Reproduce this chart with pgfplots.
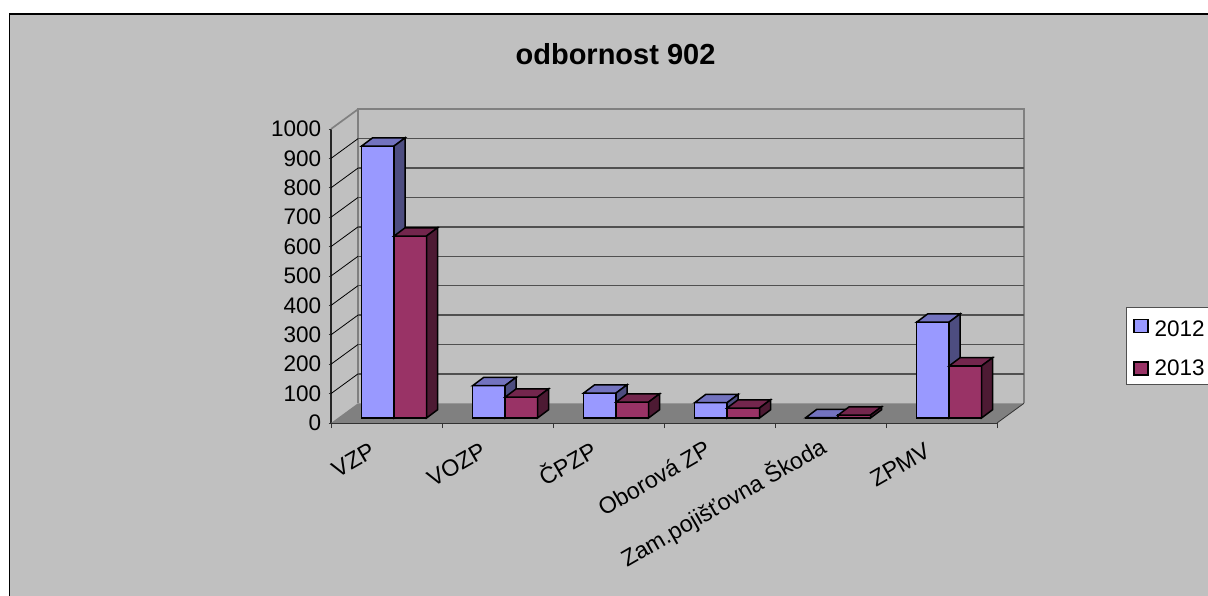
\documentclass[border=0pt]{standalone}
\usepackage{fontspec}
\setmainfont{Liberation Sans}
\usepackage{pgfplots}
\usepackage{pgfplotstable}
\pgfplotsset{compat=1.18}
\definecolor{chartbg}{HTML}{C0C0C0}
\definecolor{bluef}{HTML}{9999FF}
\definecolor{bluet}{HTML}{7373BF}
\definecolor{blues}{HTML}{4D4D80}
\definecolor{redf}{HTML}{993366}
\definecolor{redt}{HTML}{73264D}
\definecolor{reds}{HTML}{4D1A33}
\definecolor{wallc}{HTML}{808080}
\definecolor{gridc}{HTML}{505050}
\pgfplotstableread{
idx y2012 y2013
0 925 619
1 110 71
2 85 54
3 52 34
4 1 10
5 326 177
}\barsdata
\newcommand{\onebar}[6]{% left, value, front, top, side
  \pgfmathsetmacro{\xa}{#1}\pgfmathsetmacro{\xb}{#1+0.2923}
  \pgfmathsetmacro{\xc}{#1+0.099}\pgfmathsetmacro{\xd}{#1+0.2923+0.099}
  \pgfmathsetmacro{\yt}{#2+17}\pgfmathsetmacro{\ytt}{#2+17+28}
  \addplot[forget plot,fill=#3,draw=black,line width=1.5pt] coordinates {(\xa,17)(\xb,17)(\xb,\yt)(\xa,\yt)} --cycle;
  \addplot[forget plot,fill=#4,draw=black,line width=1.5pt] coordinates {(\xa,\yt)(\xb,\yt)(\xd,\ytt)(\xc,\ytt)} --cycle;
  \addplot[forget plot,fill=#5,draw=black,line width=1.5pt] coordinates {(\xb,17)(\xd,45)(\xd,\ytt)(\xb,\yt)} --cycle;
}
\begin{document}
\begin{tikzpicture}[x=1pt,y=1pt]
\useasboundingbox (0,0) rectangle (1208,595);
\clip (0,0) rectangle (1208,595);
\fill[white] (0,0) rectangle (1208,595);
\fill[chartbg] (9.5,-5) rectangle (1215,581);
\draw[black,line width=1.3pt] (9.5,-5) -- (9.5,581) -- (1215,581);
\node[font=\bfseries\fontsize{29}{34}\selectfont,text=black] at (615.5,541) {odbornost 902};
\begin{axis}[
  at={(331pt,172pt)},anchor=south west,scale only axis,
  width=666pt,height=294pt,
  xmin=-0.5,xmax=5.5,ymin=0,ymax=1000,
  clip=false,
  axis x line*=bottom,axis y line*=left,
  axis line style={-,black!85,line width=1.2pt},
  xtick={-0.5,0.5,1.5,2.5,3.5,4.5,5.5},
  xticklabels={VZP\hspace*{8pt},VOZP\hspace*{8pt},ČPZP\hspace*{8pt},Oborová ZP\hspace*{5pt},Zam.pojišťovna Škoda,ZPMV\hspace*{8pt},{}},
  ytick={0,100,...,1000},
  tick align=outside,
  tick style={black!80,line width=1pt},
  xtick style={/pgfplots/major tick length=5pt},
  ytick style={/pgfplots/major tick length=2.5pt},
  /pgf/number format/assume math mode=true,
  /pgf/number format/set thousands separator={},
  yticklabel style={font=\fontsize{22.5}{26}\selectfont,text=black,xshift=-2pt},
  xticklabel style={font=\fontsize{23.2}{27}\selectfont,text=black,rotate=30,anchor=north east,
    text height=17pt,text depth=5pt,xshift=37pt,yshift=-27pt},
  legend style={at={(1.1933,0.3946)},anchor=north west,fill=white,draw=gridc,line width=1pt,
    inner xsep=7pt,inner ysep=5pt,font=\fontsize{22.5}{26}\selectfont,
    row sep=18pt,legend cell align=left,
    /tikz/every even column/.append style={column sep=0pt}},
  legend image code/.code={\draw[#1] (0pt,-6.5pt) rectangle (14pt,6.5pt);},
]
% back wall edges, floor
\addplot[forget plot,wallc,line width=1.7pt] coordinates {(-0.257,67)(-0.257,1067)(5.743,1067)(5.743,67)};
\addplot[forget plot,wallc,line width=1.7pt] coordinates {(-0.5,1000)(-0.257,1067)};
\pgfplotsforeachungrouped \v in {100,200,...,900}{
  \pgfmathsetmacro{\vb}{\v+67}
  \addplot[forget plot,gridc,line width=1.5pt] coordinates {(-0.257,\vb)(5.743,\vb)};
  \addplot[forget plot,black,line width=0.8pt] coordinates {(-0.5,\v)(-0.257,\vb)};
}
\addplot[forget plot,fill=wallc,draw=none] coordinates {(-0.5,0)(5.5,0)(5.743,67)(-0.257,67)} --cycle;
\addplot[forget plot,black!80,line width=0.8pt] coordinates {(5.5,0)(5.743,67)};
% bars
\pgfplotsforeachungrouped \i in {0,...,5}{
  \pgfplotstablegetelem{\i}{y2012}\of\barsdata
  \let\valA\pgfplotsretval
  \pgfplotstablegetelem{\i}{y2013}\of\barsdata
  \let\valB\pgfplotsretval
  \pgfmathsetmacro{\la}{\i+0.0684-0.2923}
  \pgfmathsetmacro{\lb}{\i+0.0684}
  \edef\tmpcall{\noexpand\onebar{\la}{\valA}{bluef}{bluet}{blues}{}}\tmpcall
  \edef\tmpcall{\noexpand\onebar{\lb}{\valB}{redf}{redt}{reds}{}}\tmpcall
}
\addlegendimage{fill=bluef,draw=black,line width=1.3pt}
\addlegendentry{\rule{0pt}{22pt}\hspace*{4pt}2012\hspace{12pt}}
\addlegendimage{fill=redf,draw=black,line width=1.3pt}
\addlegendentry{\hspace*{4pt}2013\hspace{12pt}}
\end{axis}
\end{tikzpicture}
\end{document}
